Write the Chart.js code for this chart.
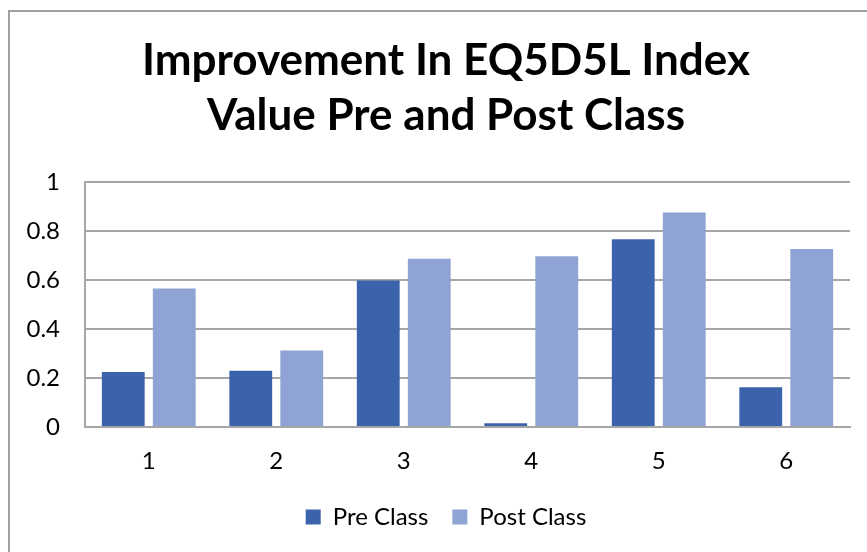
<!DOCTYPE html>
<html>
<head>
<meta charset="utf-8">
<script src="https://cdn.jsdelivr.net/npm/chart.js@4/dist/chart.umd.min.js"></script>
<style>
    html, body { margin: 0; padding: 0; background: #fff; overflow: hidden; }
    #wrap { position: relative; width: 867px; height: 552px; overflow: hidden; }
</style>
</head>
<body>
<div id="wrap"><canvas id="chart" width="900" height="552"></canvas></div>
<script>
'use strict';

// values
const categories = ['1', '2', '3', '4', '5', '6'];
const preClass = [0.224, 0.230, 0.598, 0.015, 0.766, 0.162];
const postClass = [0.565, 0.312, 0.687, 0.697, 0.876, 0.727];
const titleLines = ['Improvement In EQ5D5L Index', 'Value Pre and Post Class'];

const FONT = 'Lato, "Open Sans", sans-serif';

// outer frame of the chart object (runs off the right and bottom edge)
const frame = {
    id: 'frame',
    beforeDraw(chart) {
        const ctx = chart.ctx;
        ctx.save();
        ctx.strokeStyle = '#a0a0a0';
        ctx.lineWidth = 2;
        ctx.strokeRect(9, 11, 940, 600);
        ctx.restore();
    }
};

new Chart(document.getElementById('chart'), {
    type: 'bar',
    data: {
        labels: categories,
        datasets: [
            {
                label: 'Pre Class',
                data: preClass,
                backgroundColor: '#3b63ac',
                categoryPercentage: 0.8,
                barPercentage: 0.84
            },
            {
                label: 'Post Class',
                data: postClass,
                backgroundColor: '#8fa4d4',
                categoryPercentage: 0.8,
                barPercentage: 0.84
            }
        ]
    },
    options: {
        responsive: false,
        animation: false,
        layout: { padding: { left: 8, right: 16, top: 0, bottom: 13 } },
        plugins: {
            title: {
                display: true,
                text: titleLines,
                color: '#000',
                font: { family: FONT, size: 44, weight: 'bold', lineHeight: '55px' },
                padding: { top: 33, bottom: 39 }
            },
            legend: {
                position: 'bottom',
                labels: {
                    color: '#000',
                    font: { family: FONT, size: 24 },
                    boxWidth: 15,
                    boxHeight: 15,
                    padding: 24
                }
            },
            tooltip: { enabled: false }
        },
        scales: {
            x: {
                afterFit(scale) { scale.height = 54; },
                grid: { display: false, drawTicks: false },
                border: { display: true, color: '#a6a6a6', width: 2 },
                ticks: { color: '#000', font: { family: FONT, size: 24 }, padding: 20 }
            },
            y: {
                min: 0,
                max: 1,
                afterFit(scale) { scale.width = 77; },
                grid: { color: '#a6a6a6', lineWidth: 2, drawTicks: false },
                border: { display: true, color: '#a6a6a6', width: 2 },
                ticks: {
                    stepSize: 0.2,
                    color: '#000',
                    font: { family: FONT, size: 24 },
                    padding: 25,
                    callback: (v) => Number(v.toFixed(1)).toString()
                }
            },
            // empty strip on the right so the plot stops short of the frame
            y2: {
                position: 'right',
                afterFit(scale) { scale.width = 34; },
                grid: { display: false },
                border: { display: false },
                ticks: { display: false }
            }
        }
    },
    plugins: [frame]
});
</script>
</body>
</html>
